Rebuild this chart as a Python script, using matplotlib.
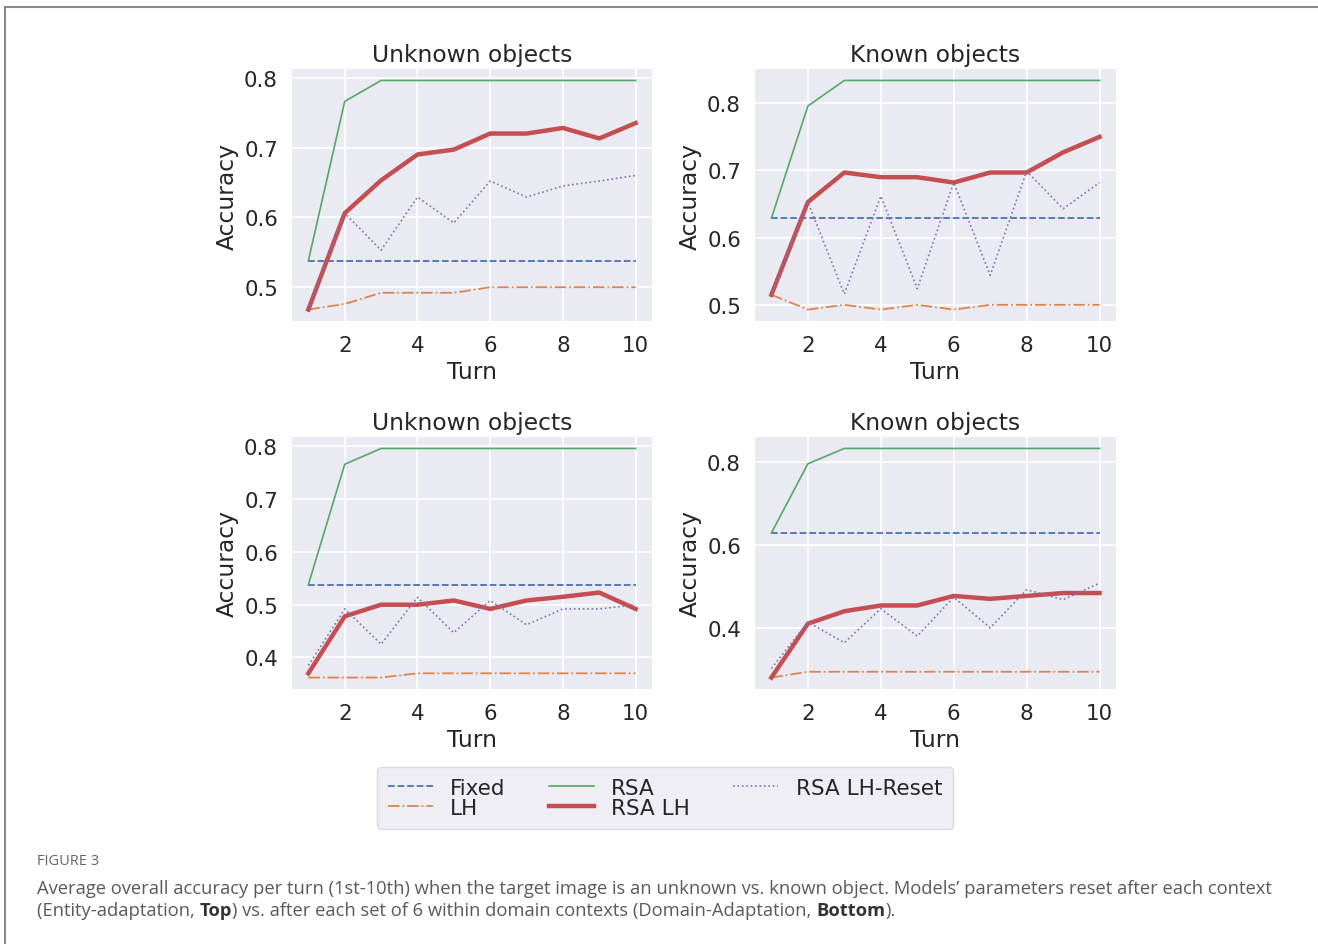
import matplotlib
matplotlib.use("Agg")
import matplotlib.pyplot as plt
from matplotlib.ticker import MultipleLocator
from matplotlib.lines import Line2D

# ---------------- data ----------------
turns = [1, 2, 3, 4, 5, 6, 7, 8, 9, 10]
series_names = ["Fixed", "LH", "RSA", "RSA LH", "RSA LH-Reset"]
panel_titles = ["Unknown objects", "Known objects", "Unknown objects", "Known objects"]

# Top-left: Entity-adaptation, unknown objects
tl_fixed = [0.538] * 10
tl_lh = [0.468, 0.476, 0.492, 0.492, 0.492, 0.500, 0.500, 0.500, 0.500, 0.500]
tl_rsa = [0.538, 0.766, 0.796, 0.796, 0.796, 0.796, 0.796, 0.796, 0.796, 0.796]
tl_rsalh = [0.468, 0.606, 0.653, 0.690, 0.697, 0.720, 0.720, 0.728, 0.713, 0.735]
tl_reset = [0.468, 0.606, 0.553, 0.629, 0.592, 0.652, 0.629, 0.645, 0.652, 0.660]

# Top-right: Entity-adaptation, known objects
tr_fixed = [0.629] * 10
tr_lh = [0.515, 0.493, 0.500, 0.493, 0.500, 0.493, 0.500, 0.500, 0.500, 0.500]
tr_rsa = [0.629, 0.796, 0.834, 0.834, 0.834, 0.834, 0.834, 0.834, 0.834, 0.834]
tr_rsalh = [0.515, 0.653, 0.697, 0.690, 0.690, 0.682, 0.697, 0.697, 0.727, 0.750]
tr_reset = [0.515, 0.653, 0.516, 0.662, 0.524, 0.682, 0.544, 0.699, 0.643, 0.682]

# Bottom-left: Domain-adaptation, unknown objects
bl_fixed = [0.538] * 10
bl_lh = [0.362, 0.362, 0.362, 0.370, 0.370, 0.370, 0.370, 0.370, 0.370, 0.370]
bl_rsa = [0.538, 0.766, 0.796, 0.796, 0.796, 0.796, 0.796, 0.796, 0.796, 0.796]
bl_rsalh = [0.370, 0.478, 0.500, 0.500, 0.508, 0.492, 0.508, 0.515, 0.523, 0.492]
bl_reset = [0.385, 0.492, 0.425, 0.514, 0.447, 0.508, 0.462, 0.492, 0.492, 0.500]

# Bottom-right: Domain-adaptation, known objects
br_fixed = [0.629] * 10
br_lh = [0.280, 0.294, 0.294, 0.294, 0.294, 0.294, 0.294, 0.294, 0.294, 0.294]
br_rsa = [0.629, 0.796, 0.833, 0.833, 0.833, 0.833, 0.833, 0.833, 0.833, 0.833]
br_rsalh = [0.280, 0.410, 0.440, 0.454, 0.454, 0.477, 0.470, 0.477, 0.484, 0.484]
br_reset = [0.302, 0.414, 0.364, 0.446, 0.380, 0.474, 0.400, 0.492, 0.468, 0.508]

panels = [
    [tl_fixed, tl_lh, tl_rsa, tl_rsalh, tl_reset],
    [tr_fixed, tr_lh, tr_rsa, tr_rsalh, tr_reset],
    [bl_fixed, bl_lh, bl_rsa, bl_rsalh, bl_reset],
    [br_fixed, br_lh, br_rsa, br_rsalh, br_reset],
]
ytick_steps = [0.1, 0.1, 0.1, 0.2]

# ---------------- style ----------------
styles = [
    dict(color="#4c72b0", ls="--", lw=1.3),
    dict(color="#dd8452", ls="-.", lw=1.3),
    dict(color="#55a868", ls="-", lw=1.2),
    dict(color="#c44e52", ls="-", lw=3.2),
    dict(color="#8172b3", ls=":", lw=1.2),
]

plt.rcParams.update({
    "font.family": ["DejaVu Sans"],
    "axes.facecolor": "#EAEAF2",
    "axes.edgecolor": "white",
    "axes.grid": True,
    "grid.color": "white",
    "grid.linewidth": 1.2,
    "text.color": "#262626",
    "axes.labelcolor": "#262626",
    "xtick.color": "#262626",
    "ytick.color": "#262626",
})

W, H = 1318, 945
fig = plt.figure(figsize=(W / 100, H / 100), dpi=100)
fig.patch.set_facecolor("white")

positions = [
    (292, 70, 652, 322),
    (755, 70, 1116, 322),
    (292, 438, 652, 690),
    (755, 438, 1116, 690),
]

axes = []
for i, (x0, y0, x1, y1) in enumerate(positions):
    ax = fig.add_axes([x0 / W, 1 - y1 / H, (x1 - x0) / W, (y1 - y0) / H])
    for data, name, st in zip(panels[i], series_names, styles):
        ax.plot(turns, data, label=name, **st)
    ax.set_title(panel_titles[i], fontsize=16.8, pad=6)
    ax.set_xlabel("Turn", fontsize=16.8, labelpad=4)
    ax.set_ylabel("Accuracy", fontsize=16.8, labelpad=4)
    ax.xaxis.set_major_locator(MultipleLocator(2))
    ax.yaxis.set_major_locator(MultipleLocator(ytick_steps[i]))
    ax.tick_params(length=0, labelsize=15.4, pad=10)
    for s in ax.spines.values():
        s.set_visible(False)
    ax.set_axisbelow(True)
    axes.append(ax)

handles, labels = axes[0].get_legend_handles_labels()
leg = fig.legend(handles, labels, ncol=3, loc="center",
                 bbox_to_anchor=(665 / W, 1 - 799 / H), fontsize=15.5,
                 labelspacing=0.0, handlelength=2.1, handletextpad=0.8,
                 columnspacing=2.0, frameon=True, fancybox=True,
                 borderpad=0.5)
leg.get_frame().set_facecolor("#EAEAF2")
leg.get_frame().set_edgecolor("#d4d4dc")
leg.get_frame().set_linewidth(1.0)

# ---------------- frame lines ----------------
fig.add_artist(Line2D([4.5 / W, 1.0], [1 - 7.5 / H, 1 - 7.5 / H],
                      transform=fig.transFigure, color="#8a8a8a", lw=1.5))
fig.add_artist(Line2D([4.5 / W, 4.5 / W], [1 - 7.5 / H, 0.0],
                      transform=fig.transFigure, color="#8a8a8a", lw=1.5))

# ---------------- caption ----------------
cap_font = "Open Sans"
cap_color = "#5a5a5a"
fig.text(37 / W, 1 - 862 / H, "FIGURE 3", fontsize=10.5, color="#666666",
         family=cap_font, va="center", ha="left")

line1 = ("Average overall accuracy per turn (1st-10th) when the target image is an "
         "unknown vs. known object. Models\u2019 parameters reset after each context")
line2_parts = [
    ("(Entity-adaptation, ", "normal"),
    ("Top", "bold"),
    (") vs. after each set of 6 within domain contexts (Domain-Adaptation, ", "normal"),
    ("Bottom", "bold"),
    (").", "normal"),
]

fig.canvas.draw()
renderer = fig.canvas.get_renderer()
probe = fig.text(0, 0, line1, fontsize=12, family=cap_font)
w = probe.get_window_extent(renderer).width
probe.remove()
cap_size = 12 * (1226 / w)

fig.text(37 / W, 1 - 894 / H, line1, fontsize=cap_size, family=cap_font,
         color=cap_color, va="baseline", ha="left")
x = 37.0
for txt, wt in line2_parts:
    t = fig.text(x / W, 1 - 916 / H, txt, fontsize=cap_size, family=cap_font,
                 weight=wt, color=cap_color if wt == "normal" else "#333333",
                 va="baseline", ha="left")
    x += t.get_window_extent(renderer).width

fig.savefig("out.png", dpi=100)
